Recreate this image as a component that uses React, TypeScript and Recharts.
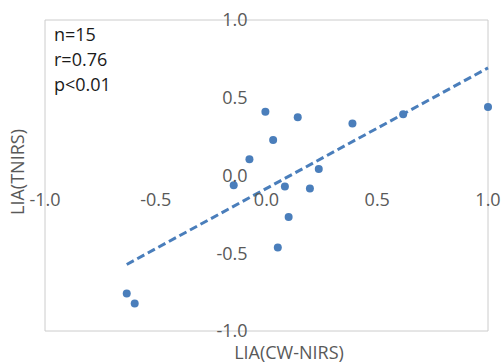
import { ScatterChart, Scatter, XAxis, YAxis, CartesianGrid, ReferenceDot } from "recharts"

// LIA values
const cwNirs = [-0.005, 0.141, 0.03, -0.077, 0.236, -0.148, 0.083, 0.196, 0.1, 0.051, 0.388, 0.617, 1.0, -0.631, -0.595]
const tNirs = [0.41, 0.375, 0.229, 0.104, 0.042, -0.063, -0.07, -0.083, -0.267, -0.463, 0.334, 0.394, 0.441, -0.759, -0.823]

// linear trend line ends
const trendX = [-0.631, 1.0]
const trendY = [-0.572, 0.692]

const ticks = [-1, -0.5, 0, 0.5, 1]
const stats = ["n=15", "r=0.76", "p<0.01"]

const blue = "#4a7ebb"
const font = "'Open Sans', sans-serif"

const points = cwNirs.map((x, i) => ({ x, y: tNirs[i] }))
const trend = trendX.map((x, i) => ({ x, y: trendY[i] }))

export default function App() {
  return (
    <div style={{ position: "absolute", left: 0, top: 0, width: 503, height: 363, background: "#fff", fontFamily: font }}>
      <ScatterChart width={503} height={363} margin={{ top: 20, right: 15, bottom: 32, left: 45 }}>
        <CartesianGrid stroke="#cccccc" strokeWidth={1} />
        <XAxis type="number" dataKey="x" domain={[-1, 1]} ticks={ticks} height={0} tick={false} axisLine={false} tickLine={false} />
        <YAxis type="number" dataKey="y" domain={[-1, 1]} ticks={ticks} width={0} tick={false} axisLine={false} tickLine={false} />
        {ticks.map(t => (
          <ReferenceDot
            key={"x" + t}
            x={t}
            y={0}
            r={0}
            fill="none"
            stroke="none"
            label={{ value: t.toFixed(1), position: "bottom", offset: 18, fill: "#595959", fontSize: 18, fontFamily: font }}
          />
        ))}
        {ticks.map(t => (
          <ReferenceDot
            key={"y" + t}
            x={0}
            y={t}
            r={0}
            fill="none"
            stroke="none"
            label={{ value: t.toFixed(1), position: "left", offset: 19, fill: "#595959", fontSize: 18, fontFamily: font }}
          />
        ))}
        <Scatter
          data={trend}
          line={{ stroke: blue, strokeWidth: 3, strokeDasharray: "8 4" }}
          shape={() => <g />}
          isAnimationActive={false}
        />
        <Scatter
          data={points}
          fill={blue}
          shape={(p: any) => <circle cx={p.cx} cy={p.cy} r={4} fill={blue} />}
          isAnimationActive={false}
        />
      </ScatterChart>
      <div style={{ position: "absolute", left: 54, top: 22, fontSize: 18, lineHeight: "25px", color: "#1a1a1a" }}>
        {stats.map(s => (
          <div key={s}>{s}</div>
        ))}
      </div>
      <div style={{ position: "absolute", left: 289, top: 352, transform: "translate(-50%, -50%)", fontSize: 18, lineHeight: "20px", color: "#595959", whiteSpace: "nowrap" }}>
        LIA(CW-NIRS)
      </div>
      <div style={{ position: "absolute", left: 17, top: 172, transform: "translate(-50%, -50%) rotate(-90deg)", fontSize: 18, lineHeight: "20px", color: "#595959", whiteSpace: "nowrap" }}>
        LIA(TNIRS)
      </div>
    </div>
  )
}
